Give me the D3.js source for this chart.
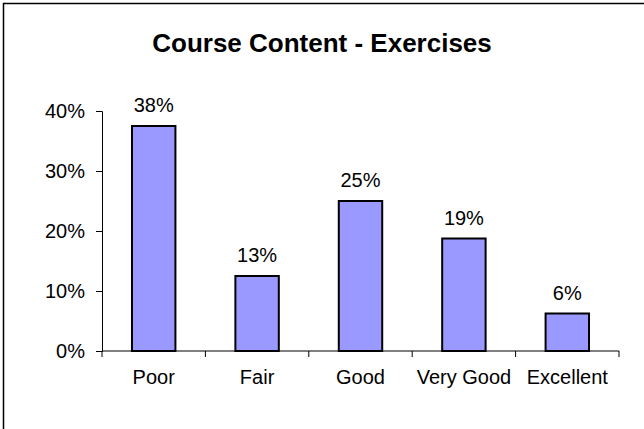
<!DOCTYPE html>
<html><head><meta charset="utf-8">
<script src="https://cdn.jsdelivr.net/npm/d3@7"></script>
<style>html,body{margin:0;padding:0;background:#fff;}svg{display:block;}</style>
</head><body>
<svg id="chart" width="644" height="429"></svg>
<script>
const title = "Course Content - Exercises";
const categories = ["Poor", "Fair", "Good", "Very Good", "Excellent"];
const values = [0.375, 0.125, 0.25, 0.1875, 0.0625];
const valueLabels = ["38%", "13%", "25%", "19%", "6%"];
const yTicks = [0, 0.1, 0.2, 0.3, 0.4];

const svg = d3.select("#chart");
const font = "'Liberation Sans', Arial, sans-serif";

svg.append("path").attr("d", "M3.5,429V3.5H644").attr("fill", "none").attr("stroke", "#000").attr("stroke-width", 1.5);

svg.append("text").attr("x", 322).attr("y", 52).attr("text-anchor", "middle")
  .attr("font-family", font).attr("font-weight", "bold").attr("font-size", 26).text(title);

const x = d3.scaleBand().domain(categories).range([102, 619]).paddingInner(0.58).paddingOuter(0.29);
const y = d3.scaleLinear().domain([0, 0.4]).range([351, 111]);

const yAxis = svg.append("g").attr("transform", "translate(102,0)")
  .call(d3.axisLeft(y).tickValues(yTicks).tickFormat(d3.format(".0%")).tickSize(6).tickPadding(11));
yAxis.selectAll("text").attr("font-family", font).attr("font-size", 20).attr("fill", "#000");
yAxis.selectAll("line,path").attr("stroke", "#000");

const xb = d3.scaleLinear().domain([0, categories.length]).range([102, 619]);
const xAxisG = svg.append("g").attr("transform", "translate(0,351)");
xAxisG.append("line").attr("x1", 102).attr("x2", 619).attr("stroke", "#000");
xAxisG.selectAll("line.t").data(d3.range(categories.length + 1)).enter().append("line")
  .attr("class", "t").attr("x1", d => xb(d)).attr("x2", d => xb(d)).attr("y1", 0).attr("y2", 6).attr("stroke", "#000");
xAxisG.selectAll("text").data(categories).enter().append("text")
  .attr("x", d => x(d) + x.bandwidth() / 2).attr("y", 33).attr("text-anchor", "middle")
  .attr("font-family", font).attr("font-size", 20).text(d => d);

svg.selectAll("rect.bar").data(values).enter().append("rect").attr("class", "bar")
  .attr("x", (d, i) => x(categories[i])).attr("width", x.bandwidth())
  .attr("y", d => y(d)).attr("height", d => y(0) - y(d))
  .attr("fill", "#9999FF").attr("stroke", "#000").attr("stroke-width", 2);

svg.selectAll("text.lbl").data(values).enter().append("text").attr("class", "lbl")
  .attr("x", (d, i) => x(categories[i]) + x.bandwidth() / 2).attr("y", d => y(d) - 14)
  .attr("text-anchor", "middle").attr("font-family", font).attr("font-size", 20)
  .text((d, i) => valueLabels[i]);
</script>
</body></html>
